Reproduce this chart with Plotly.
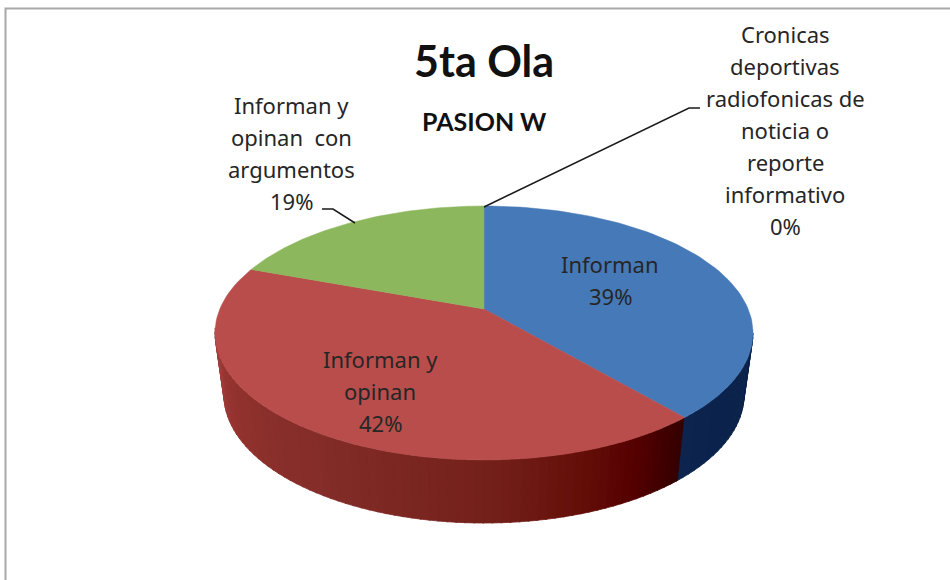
import numpy as np
import plotly.graph_objects as go

# Data
categories = ["Informan", "Informan y opinan", "Informan y opinan  con argumentos",
              "Cronicas deportivas radiofonicas de noticia o reporte informativo"]
values = [39, 42, 19, 0]
top_colors = ["#4679b8", "#b94d4b", "#8cb75c", "#7d60a0"]
chart_title = "5ta Ola"
chart_subtitle = "PASION W"
label_lines = [
    ["Informan"],
    ["Informan y", "opinan"],
    ["Informan y", "opinan  con", "argumentos"],
    ["Cronicas", "deportivas", "radiofonicas de", "noticia o", "reporte", "informativo"],
]

# Projection of the tilted pie (page pixels)
CX, CY, RX, RY = 484, 333, 269, 127
APEX_Y = 309  # the perspective moves the pie's centre above the ellipse's centre
BX, BY, BRX, BRY = 484, 395, 260, 128


def warp(deg):
    """Perspective foreshortening of a pie angle (clockwise from 12 o'clock)."""
    r = np.radians(deg)
    return deg - 10.5 * np.sin(r) + 1.96 * np.sin(2 * r)


def top_pt(a):
    r = np.radians(a)
    return CX + RX * np.sin(r), CY - RY * np.cos(r)


def bot_pt(a):
    r = np.radians(a)
    return BX + BRX * np.sin(r), BY - BRY * np.cos(r)


edges = np.cumsum([0] + values) / sum(values) * 360
warped = [float(warp(e)) for e in edges]

fig = go.Figure()


def poly(xs, ys, color, width=0.8):
    fig.add_trace(go.Scatter(x=xs, y=ys, mode="lines", fill="toself", fillcolor=color,
                             line=dict(color=color, width=width),
                             hoverinfo="skip", showlegend=False))


# Side wall shading, angle -> rgb
side_stops = {
    0: ([90, 132], [(10, 34, 72), (12, 36, 78)]),
    1: ([132, 145, 158, 178, 215, 250, 272],
       [(50, 0, 0), (84, 0, 0), (100, 14, 8), (116, 32, 26), (130, 44, 40), (146, 50, 46), (160, 60, 58)]),
    2: ([272, 300], [(160, 60, 58), (160, 60, 58)]),
}

strip_edges = np.arange(90, 273, 2.0)
for a0, a1 in zip(strip_edges[:-1], strip_edges[1:]):
    mid = (a0 + a1) / 2
    idx = next(i for i in range(len(values)) if warped[i] <= mid <= warped[i + 1])
    ang, rgb = side_stops[idx]
    c = [np.interp(mid, ang, [s[k] for s in rgb]) for k in range(3)]
    color = f"rgb({c[0]:.0f},{c[1]:.0f},{c[2]:.0f})"
    p0, p1 = top_pt(a0), top_pt(a1 + 0.3)
    q0, q1 = bot_pt(a0), bot_pt(a1 + 0.3)
    poly([p0[0], p1[0], q1[0], q0[0], p0[0]], [p0[1], p1[1], q1[1], q0[1], p0[1]], color)

# Top face slices
for i, v in enumerate(values):
    if v == 0:
        continue
    th = np.linspace(warped[i], warped[i + 1], 90)
    pts = [top_pt(t) for t in th]
    xs = [CX] + [p[0] for p in pts] + [CX]
    ys = [APEX_Y] + [p[1] for p in pts] + [APEX_Y]
    poly(xs, ys, top_colors[i], width=0.5)

# Labels: one annotation per text line to keep the wide line pitch
LABEL_FONT = dict(family="Noto Sans", size=22, color="#262626")
anns = []


def stack(lines, x, y0, pitch=32):
    for k, t in enumerate(lines):
        anns.append(dict(x=x, y=y0 + k * pitch, xref="x", yref="y", text=t.replace("  ", "&nbsp; "),
                         showarrow=False, font=LABEL_FONT, xanchor="center", yanchor="middle"))


stack(label_lines[0] + [f"{values[0]}%"], 610, 264)
stack(label_lines[1] + [f"{values[1]}%"], 380, 359)
stack(label_lines[2] + [f"{values[2]}%"], 291, 105)
stack(label_lines[3] + [f"{values[3]}%"], 785, 34)

anns.append(dict(x=484, y=60, xref="x", yref="y", text=f"<b>{chart_title}</b>", showarrow=False,
                 font=dict(family="Lato", size=43, color="#111111"), xanchor="center", yanchor="middle"))
anns.append(dict(x=484, y=121, xref="x", yref="y", text=f"<b>{chart_subtitle}</b>", showarrow=False,
                 font=dict(family="Lato", size=25, color="#111111"), xanchor="center", yanchor="middle"))

# Leader lines
fig.add_trace(go.Scatter(x=[484, 689, 700], y=[207, 108, 108], mode="lines",
                         line=dict(color="#1a1a1a", width=1.5), hoverinfo="skip", showlegend=False))
fig.add_trace(go.Scatter(x=[355, 333, 322], y=[223, 209, 209], mode="lines",
                         line=dict(color="#1a1a1a", width=1.5), hoverinfo="skip", showlegend=False))

fig.update_layout(
    width=950, height=580, margin=dict(l=0, r=0, t=0, b=0),
    paper_bgcolor="white", plot_bgcolor="white", annotations=anns, showlegend=False,
    xaxis=dict(range=[0, 950], visible=False, fixedrange=True),
    yaxis=dict(range=[580, 0], visible=False, fixedrange=True),
    shapes=[dict(type="rect", xref="x", yref="y", x0=5.5, y0=8.5, x1=970, y1=600,
                 line=dict(color="#a8a8a8", width=2), layer="below")],
)
fig.write_html("out.html", config=dict(displayModeBar=False),
               post_script="document.body.style.margin='0';document.body.style.overflow='hidden';")
